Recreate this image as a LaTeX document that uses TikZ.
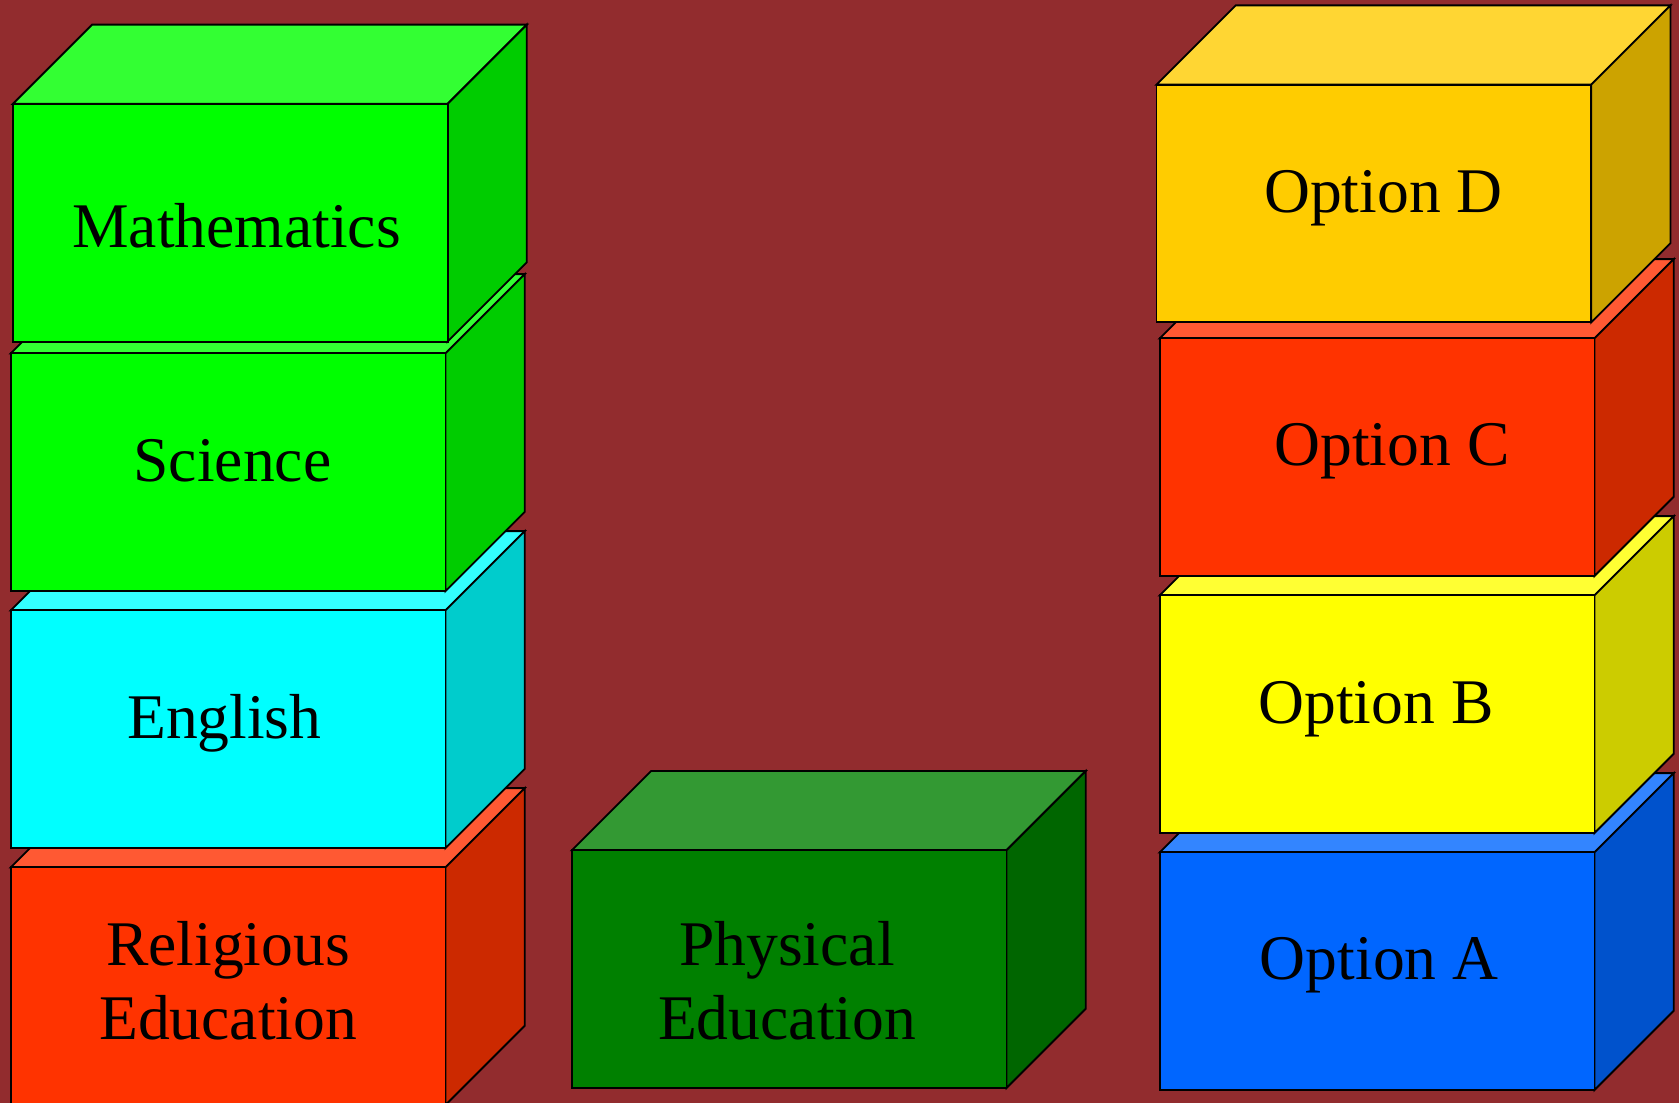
\documentclass[tikz,border=0pt]{standalone}
\usepackage{fontspec}
\setmainfont{Liberation Serif}
\definecolor{bg}{RGB}{146,44,46}
\definecolor{gF}{HTML}{00FF00}\definecolor{gT}{HTML}{33FF33}\definecolor{gS}{HTML}{00CC00}
\definecolor{cF}{HTML}{00FFFF}\definecolor{cT}{HTML}{33FFFF}\definecolor{cS}{HTML}{00CCCC}
\definecolor{rF}{HTML}{FF3300}\definecolor{rT}{HTML}{FF5933}\definecolor{rS}{HTML}{CC2900}
\definecolor{dF}{HTML}{008000}\definecolor{dT}{HTML}{339933}\definecolor{dS}{HTML}{006600}
\definecolor{oF}{HTML}{FFCC00}\definecolor{oT}{HTML}{FFD633}\definecolor{oS}{HTML}{CCA300}
\definecolor{yF}{HTML}{FFFF00}\definecolor{yT}{HTML}{FFFF33}\definecolor{yS}{HTML}{CCCC00}
\definecolor{bF}{HTML}{0066FF}\definecolor{bT}{HTML}{3385FF}\definecolor{bS}{HTML}{0052CC}
\newcommand\boxthree[5]{%
  \filldraw[face,fill=#4] (#1,#2) -- ++(74,-74) -- ++(406,0) -- ++(-74,74) -- cycle;
  \filldraw[face,fill=#5] (#1+406,#2) -- ++(74,-74) -- ++(0,222) -- ++(-74,74) -- cycle;
  \filldraw[face,fill=#3] (#1,#2) rectangle ++(406,222);
}
\begin{document}
\begin{tikzpicture}[x=0.5pt,y=-0.5pt,
  face/.style={draw=black,line width=0.85pt,line join=miter},
  lbl/.style={font=\fontsize{29.7}{34.5}\selectfont,text=black,inner sep=0pt,align=center,anchor=base}]
\useasboundingbox (0,0) rectangle (1568,1030);
\fill[bg] (0,0) rectangle (1568,1030);
\clip (0,0) rectangle (1568,1030);
% left column, bottom to top
\boxthree{10}{810}{rF}{rT}{rS}
\boxthree{10}{570}{cF}{cT}{cS}
\boxthree{10}{330}{gF}{gT}{gS}
\boxthree{12}{97}{gF}{gT}{gS}
% middle
\boxthree{534}{794}{dF}{dT}{dS}
% right column, bottom to top
\boxthree{1083}{796}{bF}{bT}{bS}
\boxthree{1083}{556}{yF}{yT}{yS}
\boxthree{1083}{316}{rF}{rT}{rS}
\boxthree{1080}{79}{oF}{oT}{oS}
% labels
\node[lbl] (math) at (221,231) {Mathematics};
\node[lbl] (sci) at (217,450) {Science};
\node[lbl] (eng) at (209.5,690) {English};
\node[lbl] (re) at (213,971) {Religious\\Education};
\node[lbl] (pe) at (735,971) {Physical\\Education};
\node[lbl] (optD) at (1292,198) {Option D};
\node[lbl] (optC) at (1300,435) {Option C};
\node[lbl] (optB) at (1285,676) {Option B};
\node[lbl] (optA) at (1288,915) {Option A};
\end{tikzpicture}
\end{document}
